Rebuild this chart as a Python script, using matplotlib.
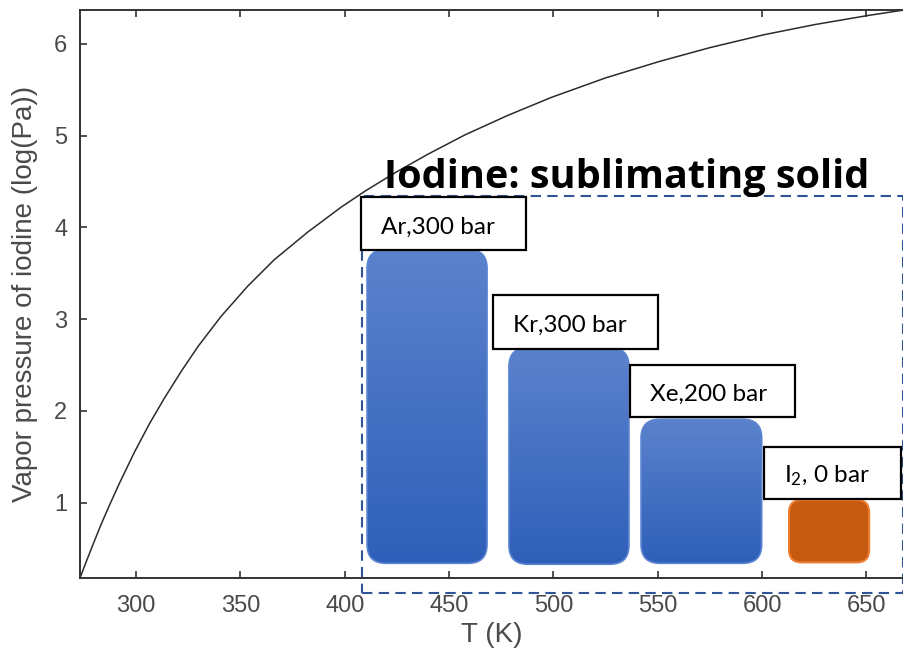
import numpy as np
import matplotlib
matplotlib.use('Agg')
import matplotlib.pyplot as plt
from matplotlib.patches import FancyBboxPatch, Rectangle
from matplotlib.colors import LinearSegmentedColormap

plt.rcParams['font.family'] = ['Liberation Sans', 'DejaVu Sans']
plt.rcParams['mathtext.fontset'] = 'custom'
plt.rcParams['mathtext.rm'] = 'Lato'
plt.rcParams['mathtext.it'] = 'Lato'

# vapor pressure curve
T = [273.15, 276.0, 279.3, 283.0, 287.2, 292.0, 299.2, 306.4, 313.6, 321.6,
     329.6, 340.7, 353.5, 366.3, 382.3, 398.2, 410.0, 424.4, 440.0, 457.7,
     478.0, 499.3, 525.0, 550.9, 575.0, 600.8, 625.0, 650.7, 668.0]
logP = [0.18, 0.35, 0.54, 0.75, 0.97, 1.21, 1.55, 1.86, 2.14, 2.43,
        2.70, 3.03, 3.36, 3.65, 3.95, 4.22, 4.40, 4.60, 4.80, 5.01,
        5.22, 5.42, 5.63, 5.81, 5.96, 6.10, 6.21, 6.31, 6.37]

# overlay shapes (data coords)
labels = ['Ar,300 bar', 'Kr,300 bar', 'Xe,200 bar', r'I$_\mathrm{2}$, 0 bar']
bar_left = [410.7, 478.7, 542.0, 612.9]
bar_right = [468.2, 536.2, 599.8, 651.3]
bar_top = [3.76, 2.69, 1.91, 1.03]
bar_bottom = [0.34, 0.33, 0.34, 0.35]
lab_left = [407.8, 470.9, 536.7, 600.9]
lab_right = [486.8, 550.0, 615.8, 666.8]
lab_bottom = [3.75, 2.68, 1.93, 1.04]
lab_top = [4.33, 3.26, 2.50, 1.61]
frame = [408.3, 667.6, 0.015, 4.34]

W, H = 904, 653
fig = plt.figure(figsize=(W/100, H/100), dpi=100)
ax = fig.add_axes([80/W, 75/H, 824/W, 568/H])
ax.plot(T, logP, color='#2b2b2b', lw=1.1)
ax.set_xlim(273.15, 668.0)
ax.set_ylim(0.18, 6.37)
ax.set_xticks(np.arange(300, 651, 50))
ax.set_yticks(np.arange(1, 7))
ax.tick_params(direction='in', length=5, width=1.2, colors='#333333',
               labelsize=17, top=True, labelcolor='#4a4a4a')
ax.tick_params(axis='x', pad=12)
ax.tick_params(axis='y', pad=9)
ax.spines['right'].set_visible(False)
for s in ['left', 'bottom', 'top']:
    ax.spines[s].set_color('#333333')
    ax.spines[s].set_linewidth(1.4)
ax.set_xlabel('T (K)', fontsize=20, color='#4a4a4a', labelpad=4)
ax.set_ylabel('Vapor pressure of iodine (log(Pa))', fontsize=20, color='#4a4a4a', labelpad=12)

# aspect so rounded corners look round on screen
asp = (6.19/568) / (394.85/824)

blue = LinearSegmentedColormap.from_list('b', ['#2f60b9', '#5b82cc'])
grad = np.linspace(0, 1, 100).reshape(-1, 1)
for i in range(4):
    w = bar_right[i] - bar_left[i]
    h = bar_top[i] - bar_bottom[i]
    if i < 3:
        p = FancyBboxPatch((bar_left[i], bar_bottom[i]), w, h,
                           boxstyle='round,pad=0,rounding_size=9',
                           mutation_aspect=asp, fc='none', ec='#5a84d2', lw=1.2, zorder=4)
        ax.add_patch(p)
        im = ax.imshow(grad, cmap=blue, origin='lower', aspect='auto',
                       extent=[bar_left[i], bar_right[i], bar_bottom[i], bar_top[i]], zorder=3)
        im.set_clip_path(p)
    else:
        p = FancyBboxPatch((bar_left[i], bar_bottom[i]), w, h,
                           boxstyle='round,pad=0,rounding_size=6',
                           mutation_aspect=asp, fc='#c55a11', ec='#ed7d31', lw=1.5, zorder=4)
        ax.add_patch(p)
    ax.add_patch(Rectangle((lab_left[i], lab_bottom[i]), lab_right[i] - lab_left[i],
                           lab_top[i] - lab_bottom[i], fc='white', ec='black', lw=1.6, zorder=5))
    ax.text(lab_left[i] + 9.6, lab_bottom[i] + 0.18, labels[i], family='Lato',
            fontsize=17.5, ha='left', va='baseline', zorder=6)

ax.add_patch(Rectangle((frame[0], frame[2]), frame[1] - frame[0], frame[3] - frame[2],
                       fill=False, ec='#2f5597', lw=1.5, ls=(0, (5, 3)), clip_on=False, zorder=2))
ax.text(535.0, 4.43, 'Iodine: sublimating solid', family='Open Sans', fontweight='bold',
        fontsize=28.5, ha='center', va='baseline', zorder=6)
# reset limits after imshow
ax.set_xlim(273.15, 668.0)
ax.set_ylim(0.18, 6.37)

fig.savefig('out.png', dpi=100)
